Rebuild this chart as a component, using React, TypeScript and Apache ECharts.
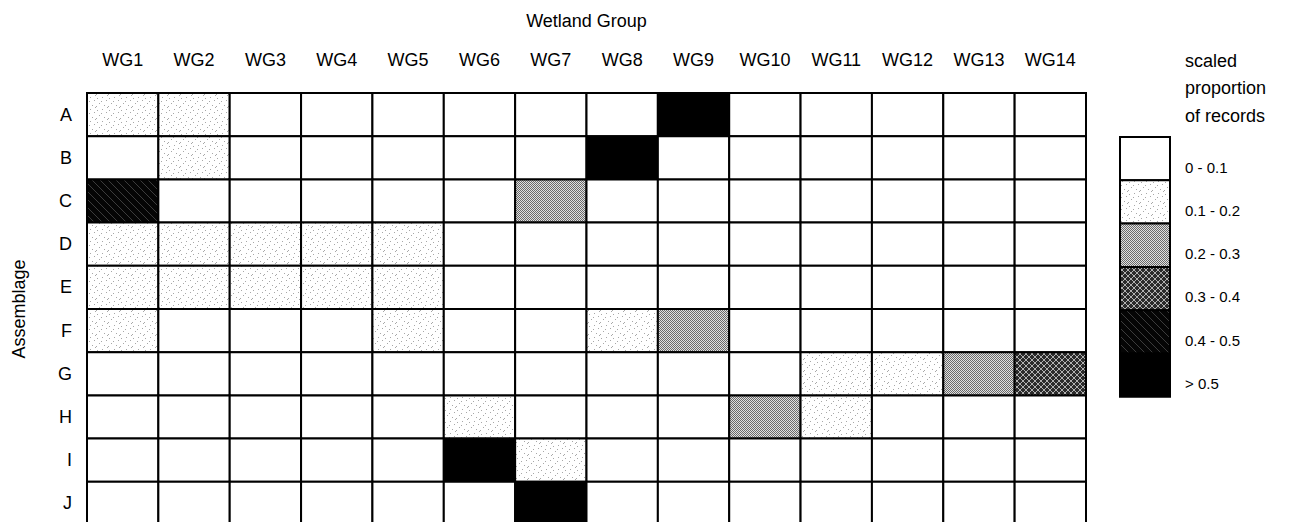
import React, { useEffect, useRef } from "react";
import * as echarts from "echarts";

const wetlandGroups = ["WG1", "WG2", "WG3", "WG4", "WG5", "WG6", "WG7", "WG8", "WG9", "WG10", "WG11", "WG12", "WG13", "WG14"];
const assemblages = ["A", "B", "C", "D", "E", "F", "G", "H", "I", "J"];

// scaled proportion of records, per assemblage row, WG1..WG14
const rowA = [0.15, 0.15, 0, 0, 0, 0, 0, 0, 0.6, 0, 0, 0, 0, 0];
const rowB = [0, 0.15, 0, 0, 0, 0, 0, 0.6, 0, 0, 0, 0, 0, 0];
const rowC = [0.45, 0, 0, 0, 0, 0, 0.25, 0, 0, 0, 0, 0, 0, 0];
const rowD = [0.15, 0.15, 0.14, 0.13, 0.14, 0, 0, 0, 0, 0, 0, 0, 0, 0];
const rowE = [0.15, 0.15, 0.14, 0.13, 0.14, 0, 0, 0, 0, 0, 0, 0, 0, 0];
const rowF = [0.13, 0, 0, 0, 0.12, 0, 0, 0.11, 0.25, 0, 0, 0, 0, 0];
const rowG = [0, 0, 0, 0, 0, 0, 0, 0, 0, 0, 0.11, 0.11, 0.25, 0.35];
const rowH = [0, 0, 0, 0, 0, 0.11, 0, 0, 0, 0.25, 0.11, 0, 0, 0];
const rowI = [0, 0, 0, 0, 0, 0.6, 0.14, 0, 0, 0, 0, 0, 0, 0];
const rowJ = [0, 0, 0, 0, 0, 0, 0.6, 0, 0, 0, 0, 0, 0, 0];
const rows = [rowA, rowB, rowC, rowD, rowE, rowF, rowG, rowH, rowI, rowJ];

const binEdges = [0.1, 0.2, 0.3, 0.4, 0.5];
const binLabels = ["0 - 0.1", "0.1 - 0.2", "0.2 - 0.3", "0.3 - 0.4", "0.4 - 0.5", "> 0.5"];

function binOf(v: number) {
  let i = 0;
  while (i < binEdges.length && v >= binEdges[i]) i++;
  return i;
}

function tile(size: number, bg: string, draw: (ctx: CanvasRenderingContext2D) => void) {
  const c = document.createElement("canvas");
  c.width = size;
  c.height = size;
  const ctx = c.getContext("2d") as CanvasRenderingContext2D;
  ctx.fillStyle = bg;
  ctx.fillRect(0, 0, size, size);
  draw(ctx);
  return { image: c, repeat: "repeat", imageWidth: size, imageHeight: size } as any;
}

function makeFills() {
  const stipple = tile(12, "#ffffff", (ctx) => {
    ctx.fillStyle = "#a8a8a8";
    const pts = [[1, 2], [6, 1], [10, 4], [3, 7], [8, 9], [0, 10], [5, 5], [11, 11]];
    pts.forEach(([x, y]) => ctx.fillRect(x, y, 1, 1));
  });
  const gray = tile(2, "#e0e0e0", (ctx) => {
    ctx.fillStyle = "#6a6a6a";
    ctx.fillRect(0, 0, 1, 1);
    ctx.fillRect(1, 1, 1, 1);
  });
  const cross = tile(6, "#2a2a2a", (ctx) => {
    ctx.fillStyle = "#b0b0b0";
    for (let i = 0; i < 6; i++) {
      ctx.fillRect(i, i, 1, 1);
      ctx.fillRect(5 - i, i, 1, 1);
    }
  });
  const diag = tile(8, "#050505", (ctx) => {
    ctx.fillStyle = "#3c3c3c";
    for (let i = 0; i < 8; i++) ctx.fillRect(i, i, 1, 1);
  });
  return ["#ffffff", stipple, gray, cross, diag, "#000000"];
}

export default function App() {
  const ref = useRef<HTMLDivElement>(null);
  useEffect(() => {
    document.body.style.margin = "0";
    if (!ref.current) return;
    const chart = echarts.init(ref.current, null, { renderer: "svg" });
    const fills = makeFills();
    const font = "'Liberation Sans', Arial, Helvetica, sans-serif";

    const data: number[][] = [];
    rows.forEach((row, yi) => {
      row.forEach((v, xi) => {
        data.push([xi, yi, v]);
      });
    });

    const legX = 1120;
    const legTop = 137;
    const legH = 43.3;
    const legendEls: any[] = [];
    binLabels.forEach((lab, i) => {
      legendEls.push({
        type: "rect",
        shape: { x: legX, y: legTop + i * legH, width: 50, height: legH },
        style: { fill: fills[i], stroke: "#000", lineWidth: 2 },
      });
      legendEls.push({
        type: "text",
        x: 1185,
        y: legTop + i * legH + 30,
        style: { text: lab, fontSize: 15, fontFamily: font, fill: "#000", verticalAlign: "middle", align: "left" },
      });
    });
    legendEls.push({
      type: "text",
      x: 1185,
      y: 47,
      style: {
        text: "scaled\nproportion\nof records",
        fontSize: 18,
        lineHeight: 27.5,
        fontFamily: font,
        fill: "#000",
        verticalAlign: "top",
        align: "left",
      },
    });

    chart.setOption({
      animation: false,
      textStyle: { fontFamily: font, color: "#000" },
      grid: { left: 87, top: 93, width: 999, height: 432, containLabel: false, outerBoundsMode: "none" },
      xAxis: {
        type: "category",
        position: "top",
        data: wetlandGroups,
        name: "Wetland Group",
        nameLocation: "middle",
        nameGap: 63,
        nameTextStyle: { fontSize: 18, color: "#000", fontFamily: font },
        axisLine: { show: false },
        axisTick: { show: false },
        splitLine: { show: false },
        axisLabel: { fontSize: 18, color: "#000", margin: 24, fontFamily: font },
      },
      yAxis: {
        type: "category",
        inverse: true,
        data: assemblages,
        name: "Assemblage",
        nameLocation: "middle",
        nameGap: 59,
        nameRotate: 90,
        nameTextStyle: { fontSize: 18, color: "#000", fontFamily: font },
        axisLine: { show: false },
        axisTick: { show: false },
        splitLine: { show: false },
        axisLabel: { fontSize: 18, color: "#000", margin: 15, fontFamily: font },
      },
      series: [
        {
          type: "custom",
          data,
          encode: { x: 0, y: 1 },
          renderItem: (params: any, api: any) => {
            const c = api.coord([api.value(0), api.value(1)]);
            const s = api.size([1, 1]);
            return {
              type: "rect",
              shape: { x: c[0] - s[0] / 2, y: c[1] - s[1] / 2, width: s[0], height: s[1] },
              style: { fill: fills[binOf(api.value(2))], stroke: "#000", lineWidth: 2 },
            };
          },
        },
      ],
      graphic: legendEls,
    });
    return () => chart.dispose();
  }, []);
  return <div ref={ref} style={{ width: 1299, height: 522 }} />;
}
